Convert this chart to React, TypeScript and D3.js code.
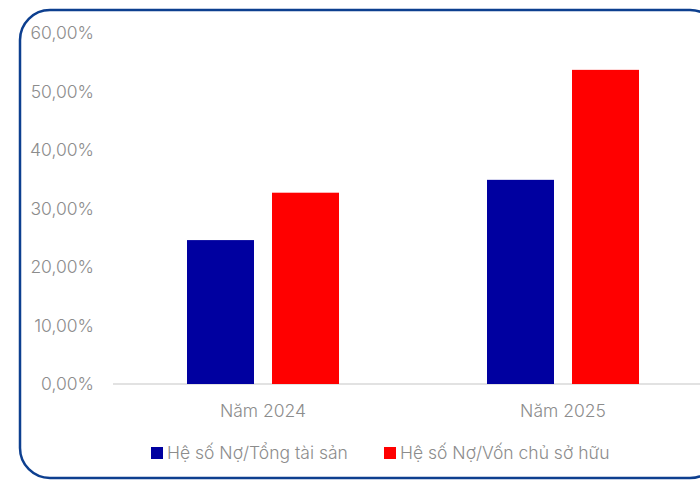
import React from "react";
import * as d3 from "d3";

const categories = ["Năm 2024", "Năm 2025"];
const seriesNames = ["Hệ số Nợ/Tổng tài sản", "Hệ số Nợ/Vốn chủ sở hữu"];
const debtToAssets = [24.6, 34.9];
const debtToEquity = [32.7, 53.7];
const yTicks = [0, 10, 20, 30, 40, 50, 60];
const colors = ["#0000A0", "#FF0000"];

const W = 700;
const H = 480;

export default function App() {
  const x0 = d3.scaleBand<string>().domain(categories).range([113, 713]).paddingInner(0).paddingOuter(0);
  const x1 = d3.scaleBand<number>().domain([0, 1]).range([0, 152]).paddingInner(18 / 85);
  const y = d3.scaleLinear().domain([0, 60]).range([384, 33]);
  const series = [debtToAssets, debtToEquity];
  const fmt = (v: number) => v.toFixed(2).replace(".", ",") + "%";
  const font = "Inter, 'Open Sans', sans-serif";
  const grey = "#8c8c8c";
  const fs = 17.5;

  return (
    <svg width={W} height={H} style={{ position: "absolute", left: 0, top: 0 }}>
      <rect x={0} y={0} width={W} height={H} fill="#fff" />
      <rect x={20} y={10} width={700} height={468} rx={30} ry={30} fill="none" stroke="#0d3f8f" strokeWidth={2.5} />
      {yTicks.map((t) => (
        <text key={t} x={94} y={y(t) + 6} textAnchor="end" fontFamily={font} fontSize={fs} fontWeight={300} fill={grey}>
          {fmt(t)}
        </text>
      ))}
      <line x1={113} x2={700} y1={y(0)} y2={y(0)} stroke="#d9d9d9" strokeWidth={1.5} />
      {categories.map((c, ci) => {
        const gx = x0(c)! + (x0.bandwidth() - 152) / 2;
        return (
          <g key={c}>
            {series.map((s, si) => (
              <rect key={si} x={gx + x1(si)!} y={y(s[ci])} width={x1.bandwidth()} height={y(0) - y(s[ci])} fill={colors[si]} />
            ))}
            <text x={x0(c)! + x0.bandwidth() / 2} y={417} textAnchor="middle" fontFamily={font} fontSize={fs} fontWeight={300} fill={grey}>
              {c}
            </text>
          </g>
        );
      })}
      {seriesNames.map((n, i) => {
        const lx = [151, 384][i];
        return (
          <g key={n}>
            <rect x={lx} y={447} width={12} height={12} fill={colors[i]} />
            <text x={lx + 16} y={459} fontFamily={font} fontSize={fs} fontWeight={300} fill={grey}>
              {n}
            </text>
          </g>
        );
      })}
    </svg>
  );
}
